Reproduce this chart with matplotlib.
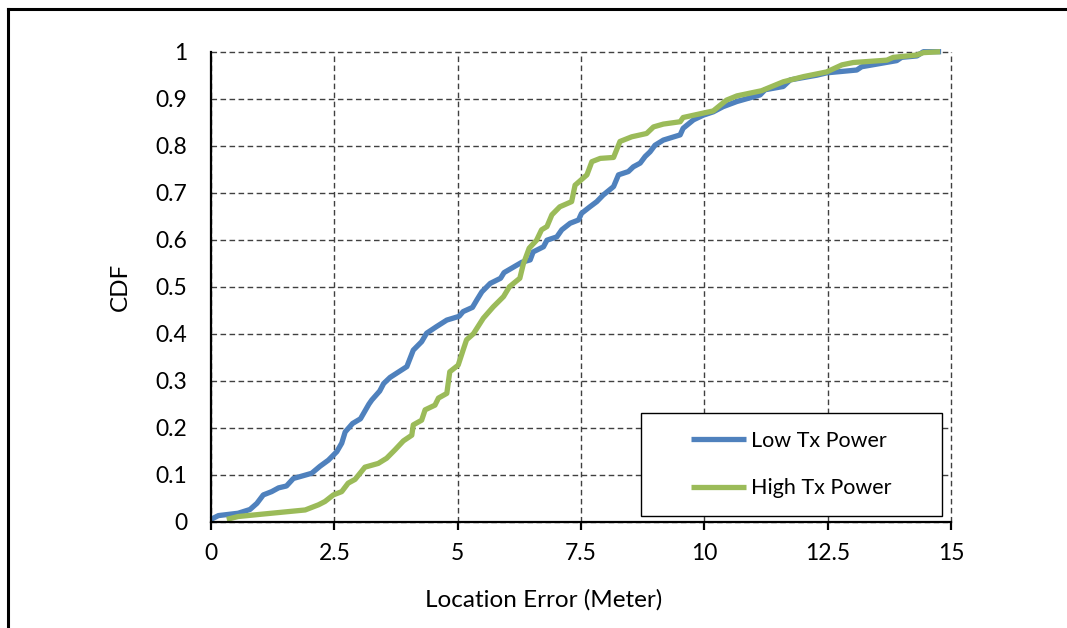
import matplotlib
matplotlib.use("Agg")
import matplotlib.pyplot as plt
from matplotlib.lines import Line2D
from matplotlib.patches import Rectangle

plt.rcParams['font.family'] = ['Lato', 'DejaVu Sans']

low_x = [0, 0.15, 0.55, 0.79, 0.93, 1.06, 1.23, 1.37, 1.53, 1.67, 1.84, 2.04, 2.21, 2.38,
         2.55, 2.65, 2.72, 2.87, 3.03, 3.2, 3.26, 3.42, 3.5, 3.63, 3.97, 4.10, 4.27, 4.37,
         4.57, 4.78, 5.03, 5.11, 5.3, 5.39, 5.49, 5.66, 5.87, 5.94, 6.12, 6.3, 6.47, 6.53,
         6.74, 6.81, 7.01, 7.11, 7.28, 7.45, 7.51, 7.68, 7.82, 7.95, 8.16, 8.26, 8.46, 8.56,
         8.70, 8.80, 8.90, 9.00, 9.17, 9.51, 9.57, 9.78, 9.98, 10.18, 10.38, 10.66, 11.13,
         11.23, 11.60, 11.74, 12.28, 12.48, 13.09, 13.19, 13.90, 14.0, 14.31, 14.44, 14.8]
low_y = [0.005, 0.013, 0.018, 0.026, 0.039, 0.057, 0.064, 0.072, 0.076, 0.092, 0.097, 0.103,
         0.118, 0.131, 0.149, 0.167, 0.191, 0.209, 0.219, 0.25, 0.259, 0.278, 0.294, 0.307,
         0.330, 0.365, 0.383, 0.401, 0.415, 0.429, 0.437, 0.447, 0.456, 0.472, 0.489, 0.507,
         0.518, 0.53, 0.541, 0.552, 0.557, 0.574, 0.585, 0.599, 0.606, 0.621, 0.635, 0.642,
         0.656, 0.670, 0.681, 0.695, 0.713, 0.738, 0.745, 0.755, 0.763, 0.777, 0.787, 0.801,
         0.812, 0.823, 0.837, 0.855, 0.865, 0.872, 0.883, 0.894, 0.908, 0.919, 0.926, 0.940,
         0.950, 0.955, 0.961, 0.968, 0.981, 0.988, 0.991, 1.0, 1.0]

high_x = [0.32, 0.55, 1.03, 1.91, 2.18, 2.31, 2.48, 2.65, 2.78, 2.92, 3.12, 3.39, 3.56, 3.73,
          3.90, 4.07, 4.10, 4.27, 4.34, 4.54, 4.61, 4.78, 4.84, 5.01, 5.11, 5.18, 5.32, 5.52,
          5.72, 5.93, 6.05, 6.26, 6.33, 6.45, 6.60, 6.70, 6.81, 6.91, 7.07, 7.31, 7.38, 7.62,
          7.72, 7.89, 8.16, 8.29, 8.53, 8.83, 8.97, 9.17, 9.51, 9.57, 10.18, 10.45, 10.66,
          11.16, 11.60, 12.01, 12.48, 12.79, 13.02, 13.70, 13.83, 14.31, 14.44, 14.78]
high_y = [0.005, 0.011, 0.016, 0.025, 0.036, 0.043, 0.057, 0.064, 0.082, 0.09, 0.116, 0.124,
          0.135, 0.153, 0.172, 0.184, 0.206, 0.216, 0.238, 0.248, 0.263, 0.273, 0.319, 0.333,
          0.365, 0.387, 0.400, 0.433, 0.457, 0.479, 0.5, 0.518, 0.548, 0.582, 0.599, 0.621,
          0.628, 0.653, 0.670, 0.681, 0.716, 0.738, 0.766, 0.773, 0.775, 0.809, 0.819, 0.826,
          0.840, 0.846, 0.851, 0.860, 0.874, 0.897, 0.906, 0.917, 0.936, 0.947, 0.957, 0.972,
          0.977, 0.982, 0.988, 0.993, 0.998, 1.0]

x_ticks = [0, 2.5, 5, 7.5, 10, 12.5, 15]
x_tick_labels = ["0", "2.5", "5", "7.5", "10", "12.5", "15"]
y_ticks = [0, 0.1, 0.2, 0.3, 0.4, 0.5, 0.6, 0.7, 0.8, 0.9, 1.0]
y_tick_labels = ["0", "0.1", "0.2", "0.3", "0.4", "0.5", "0.6", "0.7", "0.8", "0.9", "1"]
series_labels = ["Low Tx Power", "High Tx Power"]

W, H = 1067, 628
fig = plt.figure(figsize=(W / 100, H / 100), dpi=100)
ax = fig.add_axes([211 / W, 1 - 521.7 / H, 740 / W, 470 / H])

blue = "#4F81BD"
green = "#9BBB59"
ax.plot(low_x, low_y, color=blue, lw=3.8, label=series_labels[0], clip_on=False, zorder=3,
        solid_joinstyle='round', solid_capstyle='butt')
ax.plot(high_x, high_y, color=green, lw=3.8, label=series_labels[1], clip_on=False, zorder=4,
        solid_joinstyle='round', solid_capstyle='butt')

ax.set_xlim(0, 15)
ax.set_ylim(0, 1)
ax.set_xticks(x_ticks)
ax.set_xticklabels(x_tick_labels)
ax.set_yticks(y_ticks)
ax.set_yticklabels(y_tick_labels)

for s in ["top", "right"]:
    ax.spines[s].set_visible(False)
for s in ["left", "bottom"]:
    ax.spines[s].set_linewidth(1.6)
    ax.spines[s].set_color("black")
    ax.spines[s].set_zorder(5)

ax.tick_params(axis='x', direction='out', length=6, width=1.6, pad=9, labelsize=16.5)
ax.tick_params(axis='y', length=0, pad=17, labelsize=16.5)

ax.grid(True, color="#404040", linewidth=1.0, linestyle=(0, (4, 2.5)), zorder=1)
for gl in ax.get_xgridlines() + ax.get_ygridlines():
    gl.set_clip_on(False)
ax.set_axisbelow(True)

ax.set_xlabel("Location Error (Meter)", fontsize=17.5)
ax.xaxis.set_label_coords(0.45, -0.143)
ax.set_ylabel("CDF", fontsize=17.5)
ax.yaxis.set_label_coords(-0.108, 0.5)

# legend box
x0 = (641 - 211) / 740
x1 = (942 - 211) / 740
y0 = (521.7 - 516) / 470
y1 = (521.7 - 413) / 470
rect = Rectangle((x0, y0), x1 - x0, y1 - y0, transform=ax.transAxes, facecolor="white",
                 edgecolor="black", linewidth=1.0, zorder=6)
ax.add_patch(rect)
leg = ax.legend(loc="center", bbox_to_anchor=((x0 + x1) / 2, (y0 + y1) / 2),
                bbox_transform=ax.transAxes, frameon=False, fontsize=15.5,
                handlelength=2.55, handletextpad=0.25, labelspacing=1.3)
leg.set_zorder(7)

# figure border (cropped frame)
fig.add_artist(Line2D([8 / W, 8 / W], [0, 1 - 9 / H], color="black", lw=2.2,
                      transform=fig.transFigure))
fig.add_artist(Line2D([8 / W, 1], [1 - 9 / H, 1 - 9 / H], color="black", lw=2.2,
                      transform=fig.transFigure))

fig.savefig("out.png", dpi=100)
